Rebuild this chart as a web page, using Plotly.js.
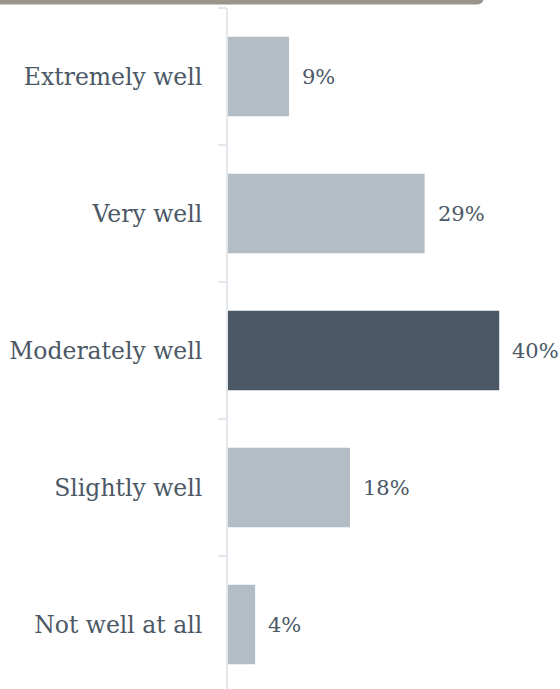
<!DOCTYPE html>
<html>
<head>
<meta charset="utf-8">
<script src="https://cdn.plot.ly/plotly-3.0.1.min.js"></script>
<style>
html, body { margin: 0; padding: 0; overflow: hidden; background: #ffffff; }
#chart { width: 560px; height: 700px; }
</style>
</head>
<body>
<div id="chart"></div>
<script>
const categories = ["Extremely well", "Very well", "Moderately well", "Slightly well", "Not well at all"];
const values = [9, 29, 40, 18, 4];
const valueLabels = ["9%", "29%", "40%", "18%", "4%"];
const highlight = "Moderately well";

const lightColor = "#b3bdc6";
const darkColor = "#4b5866";
const textColor = "#4b5866";
const lineColor = "#e4e8ed";
const fontFamily = "DejaVu Serif, serif";

const W = 560, H = 700;
const mL = 228, mR = 0, mT = 8, mB = 7;
const plotW = W - mL - mR, plotH = H - mT - mB;

const trace = {
  type: "bar",
  orientation: "h",
  y: categories,
  x: values,
  marker: { color: categories.map(c => c === highlight ? darkColor : lightColor) },
  width: 0.58,
  hoverinfo: "none"
};

const annotations = categories.map((c, i) => ({
  x: values[i], y: c, xref: "x", yref: "y",
  text: valueLabels[i], showarrow: false,
  xanchor: "left", yanchor: "middle", xshift: 11,
  font: { family: fontFamily, size: 21, color: textColor }
}));

// header band (rounded bottom-right corner), pixel -> paper
const px = x => (x - mL) / plotW;
const py = y => 1 + (mT - y) / plotH;
const r = 8;
const bandPath = `M ${px(-5)} ${py(-10)} L ${px(484)} ${py(-10)} L ${px(484)} ${py(4.5 - r)} ` +
  `Q ${px(484)} ${py(4.5)} ${px(484 - r)} ${py(4.5)} L ${px(-5)} ${py(4.5)} Z`;

const layout = {
  width: W, height: H,
  margin: { l: mL, r: mR, t: mT, b: mB, pad: 0 },
  paper_bgcolor: "#ffffff",
  plot_bgcolor: "#ffffff",
  showlegend: false,
  bargap: 0.42,
  xaxis: { range: [0, plotW / 6.78], visible: false, fixedrange: true },
  yaxis: {
    autorange: "reversed",
    showline: true, linecolor: lineColor, linewidth: 2,
    ticks: "outside", ticklen: 8, tickwidth: 2, tickcolor: lineColor,
    tickson: "boundaries",
    showgrid: false, zeroline: false,
    layer: "below traces",
    ticklabelstandoff: 19,
    tickfont: { family: fontFamily, size: 23.5, color: textColor },
    fixedrange: true
  },
  annotations: annotations,
  shapes: [{
    type: "path", xref: "paper", yref: "paper", path: bandPath,
    fillcolor: "#99958a", line: { width: 0 }, layer: "above"
  }]
};

Plotly.newPlot("chart", [trace], layout, { displayModeBar: false, staticPlot: true });
</script>
</body>
</html>
